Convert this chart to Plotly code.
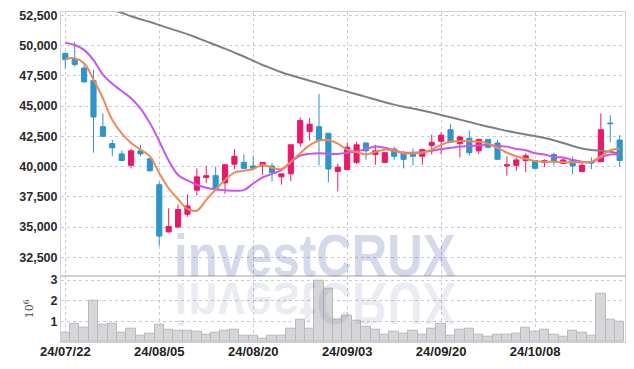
import plotly.graph_objects as go

dates = [
    "2024-07-22", "2024-07-23", "2024-07-24", "2024-07-25", "2024-07-26",
    "2024-07-29", "2024-07-30", "2024-07-31", "2024-08-01", "2024-08-02",
    "2024-08-05", "2024-08-06", "2024-08-07", "2024-08-08", "2024-08-09",
    "2024-08-12", "2024-08-13", "2024-08-14", "2024-08-16", "2024-08-19",
    "2024-08-20", "2024-08-21", "2024-08-22", "2024-08-23", "2024-08-26",
    "2024-08-27", "2024-08-28", "2024-08-29", "2024-08-30", "2024-09-02",
    "2024-09-03", "2024-09-04", "2024-09-05", "2024-09-06", "2024-09-09",
    "2024-09-10", "2024-09-11", "2024-09-12", "2024-09-13", "2024-09-19",
    "2024-09-20", "2024-09-23", "2024-09-24", "2024-09-25", "2024-09-26",
    "2024-09-27", "2024-09-30", "2024-10-02", "2024-10-04", "2024-10-07",
    "2024-10-08", "2024-10-10", "2024-10-11", "2024-10-14", "2024-10-15",
    "2024-10-16", "2024-10-17", "2024-10-18", "2024-10-21", "2024-10-22",
]

open_ = [49350, 48900, 48150, 47100, 43300, 41900, 41050, 40100, 41300, 40650,
         38500, 34600, 35000, 36050, 38050, 39100, 39250, 38650, 40200, 40350,
         40050, 40050, 40050, 39150, 39400, 41950, 42900, 43300, 42750, 39600,
         39750, 40350, 41950, 41000, 40350, 41450, 41150, 41100, 40850, 41750,
         42100, 43050, 41900, 42350, 41300, 42250, 41950, 40050, 40100, 40500,
         40500, 40350, 41000, 40250, 40550, 39600, 40350, 40400, 43600, 42200]
high = [49450, 50300, 48550, 48000, 44400, 42200, 41300, 41500, 41800, 40700,
        38700, 36550, 36850, 37700, 39850, 40050, 40000, 40150, 41450, 41000,
        40900, 40350, 40300, 39400, 41800, 44050, 44000, 46000, 42750, 40250,
        42000, 42050, 42000, 41800, 41150, 41650, 41300, 41500, 41500, 42650,
        42850, 43500, 42550, 43000, 42250, 42250, 42200, 40850, 40750, 41100,
        40500, 40600, 41150, 40650, 40850, 40350, 40750, 44400, 44250, 42600]
low = [48100, 48250, 46950, 41150, 42450, 40850, 40450, 39850, 40850, 39600,
       33450, 34550, 34950, 35850, 37600, 38650, 38050, 37750, 39800, 39850,
       39800, 39300, 38750, 38500, 38800, 41650, 42150, 40100, 38700, 37950,
       39750, 40200, 40550, 40150, 40300, 40550, 39850, 40100, 40150, 41000,
       41000, 42000, 40750, 40900, 41050, 41500, 40600, 39250, 39650, 39550,
       39850, 39950, 40100, 40200, 39350, 39600, 39800, 40400, 42000, 40000]
close = [48850, 48450, 47000, 44100, 42500, 41550, 40500, 41300, 41050, 39650,
         34250, 35050, 36450, 36750, 39150, 39250, 38100, 40150, 40850, 39850,
         39850, 40350, 39500, 39400, 41800, 43800, 43500, 42150, 39800, 39950,
         41600, 41800, 41300, 41300, 41150, 40850, 40600, 40850, 41400, 42000,
         42600, 42000, 42450, 41150, 42250, 41600, 40600, 40150, 40550, 40900,
         39850, 40500, 40400, 40550, 40050, 40100, 40300, 43050, 43550, 40500]

volume_m = [0.46, 0.90, 0.71, 2.02, 0.85, 0.90, 0.46, 0.66, 0.32, 0.42,
            0.85, 0.61, 0.56, 0.56, 0.51, 0.37, 0.46, 0.56, 0.61, 0.32,
            0.32, 0.17, 0.32, 0.32, 0.66, 1.10, 0.66, 2.96, 2.60, 1.06,
            1.26, 1.01, 0.74, 0.61, 0.37, 0.51, 0.42, 0.56, 0.37, 0.66,
            0.90, 0.32, 0.61, 0.66, 0.37, 0.27, 0.37, 0.37, 0.42, 0.71,
            0.51, 0.61, 0.37, 0.27, 0.56, 0.46, 0.32, 2.36, 1.10, 1.00]

ma5 = [48900, 48950, 48550, 47200, 45650, 43850, 42750, 41950, 41400, 40850,
       39450, 38200, 37300, 36500, 36350, 37250, 38100, 38900, 39500, 39650,
       39800, 40150, 39900, 39800, 40400, 41100, 41750, 42150, 42200, 41900,
       41400, 41200, 41000, 41200, 41400, 41300, 41100, 41100, 41150, 41400,
       41800, 42050, 42100, 42100, 42050, 41900, 41550, 41150, 40850, 40650,
       40450, 40400, 40400, 40350, 40350, 40350, 40400, 40850, 41350, 41500]

ma10 = [50250, 50050, 49650, 48800, 47600, 46850, 46250, 45650, 44800, 43600,
        42100, 40500, 39300, 38850, 38500, 38250, 38100, 38050, 38000, 38050,
        38600, 39100, 39400, 39700, 40350, 40900, 41050, 41100, 41050, 41050,
        41150, 41250, 41450, 41650, 41550, 41350, 41150, 41150, 41200, 41300,
        41450, 41550, 41650, 41700, 41750, 41800, 41700, 41650, 41450, 41350,
        41100, 41000, 40800, 40750, 40550, 40400, 40350, 40750, 41000, 41000]

ma60 = [None, None, None, None, None, 52950, 52720, 52430, 52180, 51950,
        51700, 51450, 51200, 50950, 50650, 50350, 50050, 49750, 49420, 49100,
        48750, 48400, 48100, 47800, 47550, 47330, 47100, 46880, 46650, 46420,
        46200, 45980, 45760, 45540, 45320, 45120, 44950, 44800, 44640, 44460,
        44270, 44080, 43880, 43680, 43490, 43300, 43120, 42950, 42800, 42660,
        42520, 42370, 42180, 41950, 41700, 41500, 41380, 41300, 41220, 41060]

price_ticks = [32500, 35000, 37500, 40000, 42500, 45000, 47500, 50000, 52500]
vol_ticks = [1, 2, 3]
date_tick_vals = ["2024-07-22", "2024-08-05", "2024-08-20", "2024-09-03", "2024-09-20", "2024-10-08"]
date_tick_text = ["24/07/22", "24/08/05", "24/08/20", "24/09/03", "24/09/20", "24/10/08"]

UP = "#e8186a"
DOWN = "#2d95c9"
GRID = "#c9cbdb"
AXLINE = "#d0d0d4"
TICKFONT = dict(family="Liberation Sans, Arial, sans-serif", size=12.5, color="#2a2a2a", weight="bold")

fig = go.Figure()

fig.add_trace(go.Scatter(x=dates, y=ma60, mode="lines", line=dict(color="#808080", width=2, shape="spline"),
                         hoverinfo="skip", xaxis="x", yaxis="y"))
fig.add_trace(go.Scatter(x=dates, y=ma10, mode="lines", line=dict(color="#c955ef", width=2, shape="spline"),
                         hoverinfo="skip", xaxis="x", yaxis="y"))
fig.add_trace(go.Scatter(x=dates, y=ma5, mode="lines", line=dict(color="#ef8a55", width=2, shape="spline"),
                         hoverinfo="skip", xaxis="x", yaxis="y"))
fig.add_trace(go.Candlestick(
    x=dates, open=open_, high=high, low=low, close=close,
    increasing=dict(line=dict(color=UP, width=1), fillcolor=UP),
    decreasing=dict(line=dict(color=DOWN, width=1), fillcolor=DOWN),
    whiskerwidth=0, xaxis="x", yaxis="y"))

fig.add_trace(go.Bar(x=dates, y=volume_m, marker=dict(color="#d6d6d9", line=dict(color="#b9b9bd", width=1)),
                     xaxis="x2", yaxis="y2", hoverinfo="skip"))

split = 0.2009

fig.update_layout(
    width=634, height=369,
    margin=dict(l=61, r=9, t=12, b=27, autoexpand=False),
    paper_bgcolor="white", plot_bgcolor="white",
    showlegend=False,
    bargap=0,
    boxgap=0.22,
    xaxis=dict(type="category", domain=[0, 1], anchor="y", range=[-0.46, 59.57],
               rangeslider=dict(visible=False), showticklabels=False, automargin=False,
               tickvals=date_tick_vals, showgrid=True, gridcolor=GRID, griddash="dot", gridwidth=1,
               showline=True, linecolor=AXLINE, mirror=True, ticks="", zeroline=False),
    yaxis=dict(domain=[split, 1], anchor="x", range=[30977, 52781], automargin=False,
               tickvals=price_ticks, tickformat=",d", tickfont=TICKFONT,
               showgrid=True, gridcolor=GRID, griddash="dot", gridwidth=1,
               showline=True, linecolor=AXLINE, mirror=True, ticks="", zeroline=False),
    xaxis2=dict(type="category", domain=[0, 1], anchor="y2", matches="x", range=[-0.46, 59.57],
                tickvals=date_tick_vals, ticktext=date_tick_text, automargin=False,
                ticklabelstandoff=-3,
                tickfont=dict(family="Liberation Sans, Arial, sans-serif", size=13, color="#222", weight="bold"),
                showgrid=True, gridcolor=GRID, griddash="dot", gridwidth=1,
                showline=True, linecolor=AXLINE, mirror=True, ticks="", zeroline=False),
    yaxis2=dict(domain=[0, split], anchor="x2", range=[0, 3.214], automargin=False,
                tickvals=vol_ticks, ticktext=["1", "2", "3"], tickfont=TICKFONT,
                title=dict(text="10<sup>6</sup>", font=dict(family="DejaVu Serif, serif", size=11, color="#444"),
                           standoff=14),
                showgrid=True, gridcolor=GRID, griddash="dot", gridwidth=1,
                showline=True, linecolor=AXLINE, mirror=True, ticks="", zeroline=False),
)

fig.add_annotation(text="investCRUX", xref="paper", yref="paper", x=0.45, y=0.2009,
                   xanchor="center", yanchor="bottom", yshift=-15, showarrow=False,
                   font=dict(family="Liberation Sans, Arial, sans-serif",
                             size=60, color="rgba(40,70,150,0.2)", weight="bold"))
fig.add_annotation(text="investCRUX", xref="paper", yref="paper", x=0.45, y=0.2009,
                   xanchor="center", yanchor="top", yshift=7, showarrow=False,
                   font=dict(family="Liberation Sans, Arial, sans-serif",
                             size=60, color="rgba(40,60,120,0.09)", weight="bold"))

post_js = """
document.documentElement.style.margin = '0';
document.body.style.margin = '0';
document.body.style.padding = '0';
var gd = document.getElementById('{plot_id}');
function styleWm(){
  var t = gd.querySelectorAll('.annotation-text');
  if (t.length > 1) {
    t[0].style.transformBox = 'fill-box';
    t[0].style.transformOrigin = 'center';
    t[0].style.transform = 'scale(0.82, 1)';
    t[1].style.transformBox = 'fill-box';
    t[1].style.transformOrigin = 'center';
    t[1].style.transform = 'scale(0.82, -1)';
  }
}
styleWm();
gd.on('plotly_afterplot', styleWm);
"""

fig.write_html("out.html", post_script=post_js, config={"displayModeBar": False})
